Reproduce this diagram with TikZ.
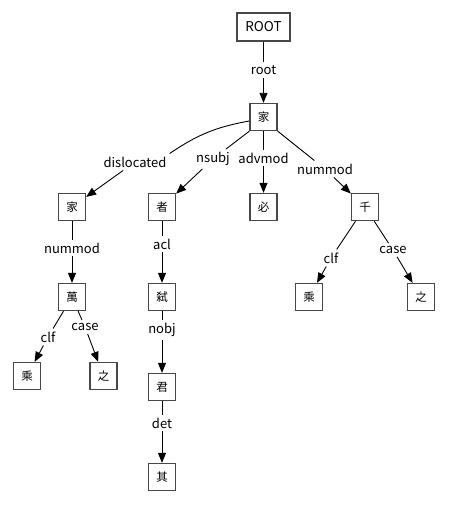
\documentclass[tikz,border=0pt]{standalone}
\usepackage{fontspec}
\setmainfont{Noto Sans CJK JP}
\usetikzlibrary{arrows.meta}
\begin{document}
\begin{tikzpicture}[x=1pt,y=-1pt,
  wbox/.style={draw=black!72,line width=1.3pt,minimum width=27pt,minimum height=27pt,inner sep=0pt,font=\fontsize{11.5}{13}\selectfont},
  rel/.style={inner sep=3pt,font=\fontsize{13}{15}\selectfont},
  edge/.style={line width=0.9pt,black},
  arr/.style={edge,-{Triangle[length=10pt,width=8pt]}}]
\useasboundingbox (0,0) rectangle (448,505);
% nodes
\node[wbox,minimum width=53pt,minimum height=28pt,font=\fontsize{13.5}{15}\selectfont] (root) at (263.5,27) {ROOT};
\node[wbox] (h) at (263.5,117) {家};
\node[wbox] (d1) at (72,207) {家};
\node[wbox] (n1) at (162,207) {者};
\node[wbox] (a1) at (263.5,207) {必};
\node[wbox] (q1) at (365,207) {千};
\node[wbox] (d2) at (72,297) {萬};
\node[wbox] (n2) at (162,297) {弑};
\node[wbox] (q2) at (309,297) {乘};
\node[wbox] (q3) at (421,297) {之};
\node[wbox] (d3) at (27,376) {乘};
\node[wbox] (d4) at (103.5,376) {之};
\node[wbox] (n3) at (162,387) {君};
\node[wbox] (n4) at (162,477) {其};
% labels
\node[rel] (lroot) at (263.5,70) {root};
\node[rel] (ldis) at (135,162) {dislocated};
\node[rel] (lnsubj) at (213,159) {nsubj};
\node[rel] (ladv) at (263.5,158) {advmod};
\node[rel] (lnum) at (325,169) {nummod};
\node[rel] (lnum2) at (72,248) {nummod};
\node[rel] (lacl) at (162,244) {acl};
\node[rel] (lclf1) at (331,258) {clf};
\node[rel] (lcase1) at (393,250) {case};
\node[rel] (lclf2) at (48,337) {clf};
\node[rel] (lcase2) at (85,327) {case};
\node[rel] (lnobj) at (162,330) {nobj};
\node[rel] (ldet) at (162,423) {det};
% edges
\draw[edge] (root) -- (lroot); \draw[arr] (lroot) -- (h);
\draw[edge] (h.west |- 0,121) to[bend right=12] (ldis.north east); \draw[arr] (ldis) -- (d1);
\draw[edge] (h.south west) -- (lnsubj); \draw[arr] (lnsubj) -- (n1);
\draw[edge] (h) -- (ladv); \draw[arr] (ladv) -- (a1);
\draw[edge] (h.south east) -- (lnum); \draw[arr] (lnum) -- (q1);
\draw[edge] (d1) -- (lnum2); \draw[arr] (lnum2) -- (d2);
\draw[edge] (n1) -- (lacl); \draw[arr] (lacl) -- (n2);
\draw[edge] (q1) -- (lclf1); \draw[arr] (lclf1) -- (q2);
\draw[edge] (q1) -- (lcase1); \draw[arr] (lcase1) -- (q3);
\draw[edge] (d2) -- (lclf2); \draw[arr] (lclf2) -- (d3);
\draw[edge] (d2) -- (lcase2); \draw[arr] (lcase2) -- (d4);
\draw[edge] (n2) -- (lnobj); \draw[arr] (lnobj) -- (n3);
\draw[edge] (n3) -- (ldet); \draw[arr] (ldet) -- (n4);
\end{tikzpicture}
\end{document}
